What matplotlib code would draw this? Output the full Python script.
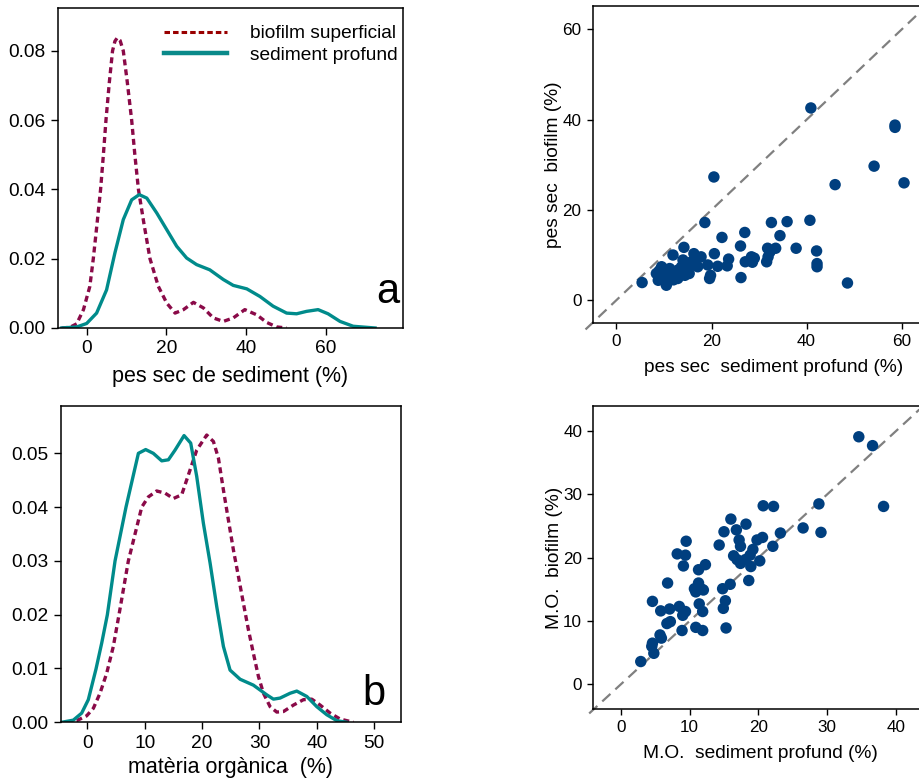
import matplotlib
matplotlib.use("Agg")
import matplotlib.pyplot as plt
from matplotlib.lines import Line2D

plt.rcParams['font.family'] = ['Liberation Sans', 'DejaVu Sans']
plt.rcParams['font.size'] = 13

# densitat pes sec (a)
a_bio_x = [-6.3, -4.2, -2.5, -0.8, 0.8, 1.67, 2.6, 3.5, 4.2, 4.85, 5.7, 6.5, 7.1, 7.7, 8.4, 9.2,
           10.2, 11.3, 12.1, 13.0, 14.4, 15.9, 18.0, 20.1, 22.2, 24.3, 26.8, 29.3, 31.8, 34.3,
           36.8, 39.7, 42.7, 45.2, 47.7, 50.2]
a_bio_y = [0, 0.0002, 0.0012, 0.0053, 0.012, 0.02, 0.03, 0.04, 0.05, 0.06, 0.071, 0.08, 0.0828,
           0.0838, 0.083, 0.08, 0.071, 0.06, 0.05, 0.04, 0.03, 0.02, 0.012, 0.0072, 0.0043, 0.0053,
           0.0074, 0.0058, 0.0029, 0.0019, 0.0029, 0.0053, 0.0038, 0.0016, 0.0003, 0]
a_sed_x = [-6.3, -2.5, 0, 2.5, 5.0, 7.1, 9.2, 11.3, 13.2, 15.1, 17.6, 20.1, 22.6, 25.1, 27.6, 30.9,
           34.3, 36.8, 40.2, 43.5, 46.8, 50.2, 52.7, 55.2, 58.1, 60.6, 63.6, 66.9, 72.4]
a_sed_y = [0, 0.0003, 0.0013, 0.0043, 0.011, 0.0217, 0.0313, 0.037, 0.0385, 0.0375, 0.0332, 0.0284,
           0.0236, 0.0202, 0.0183, 0.0168, 0.014, 0.0123, 0.0113, 0.0091, 0.0063, 0.0043, 0.0041,
           0.0048, 0.0053, 0.0041, 0.0019, 0.0005, 0]

# densitat materia organica (b)
b_sed_x = [-4.48, -2.44, -0.99, 0.17, 1.51, 2.5, 3.49, 4.83, 6.74, 8.9, 10.17, 11.5, 12.97, 14.13,
           15.29, 16.86, 18.02, 19.07, 20.23, 21.4, 22.56, 23.72, 24.88, 26.63, 28.95, 31.28, 32.44,
           33.6, 35.35, 36.51, 38.26, 40.0, 41.74, 43.49, 45.23]
b_sed_y = [0, 0.0004, 0.0017, 0.0042, 0.0099, 0.0147, 0.02, 0.03, 0.04, 0.05, 0.0507, 0.05, 0.0486,
           0.0488, 0.0506, 0.0533, 0.0519, 0.0457, 0.037, 0.0296, 0.0215, 0.0141, 0.0097, 0.008,
           0.0069, 0.0051, 0.0043, 0.0045, 0.0054, 0.0058, 0.0048, 0.0029, 0.0014, 0.0003, 0]
b_bio_x = [-3.6, -1.86, -0.12, 1.05, 2.21, 3.37, 4.53, 5.52, 7.15, 9.48, 10.64, 12.09, 13.55, 15.0,
           16.45, 17.62, 19.07, 20.81, 21.98, 22.85, 23.72, 24.59, 25.47, 26.34, 27.21, 28.08,
           28.95, 29.83, 30.7, 31.86, 33.02, 34.19, 35.93, 37.67, 39.13, 40.58, 42.33, 44.07, 46.4]
b_bio_y = [0, 0.0003, 0.0012, 0.0026, 0.0054, 0.0091, 0.0141, 0.02, 0.03, 0.04, 0.0419, 0.043,
           0.0426, 0.0416, 0.0423, 0.046, 0.0506, 0.0534, 0.0522, 0.0491, 0.0432, 0.0376, 0.032,
           0.0271, 0.0221, 0.0172, 0.0128, 0.0085, 0.0054, 0.0029, 0.0019, 0.002, 0.0032, 0.0042,
           0.0043, 0.0032, 0.0017, 0.0006, 0]

# pes sec: sediment profund vs biofilm
ps_sed = [5.4, 20.5, 40.9, 58.6, 58.6, 54.2, 46.0, 60.5, 18.6, 27.0, 22.2, 32.6, 35.9, 40.7, 34.4,
          26.1, 31.8, 33.5, 37.8, 42.1, 42.2, 42.2, 48.6, 26.2, 19.6, 19.8, 20.6, 23.6, 23.3, 21.3,
          19.2, 28.4, 28.6, 27.1, 31.6, 31.9, 32.3, 11.9, 14.2, 16.3, 17.8, 17.1, 14.0, 8.4, 9.5,
          8.8, 10.5, 11.2, 12.4, 13.0, 14.4, 15.3, 9.8, 11.6, 13.7, 16.1, 10.5, 12.9, 9.0, 10.0,
          12.0, 15.0, 16.8, 29.0, 15.8]
ps_bio = [3.9, 27.3, 42.6, 38.8, 38.3, 29.7, 25.6, 26.0, 17.2, 15.0, 13.9, 17.2, 17.4, 17.7, 14.3,
          12.0, 11.5, 11.5, 11.5, 10.9, 8.1, 7.4, 3.8, 5.0, 4.8, 5.5, 10.3, 9.1, 7.6, 7.5,
          7.8, 9.6, 8.4, 8.5, 8.5, 9.6, 10.7, 10.0, 11.7, 10.3, 9.6, 7.4, 8.9, 5.9, 7.4,
          4.4, 3.3, 7.0, 5.2, 6.7, 5.5, 5.9, 5.2, 5.9, 7.4, 8.1, 4.4, 4.8, 6.5, 6.0,
          4.5, 7.0, 8.9, 9.3, 8.5]

# materia organica: sediment profund vs biofilm
mo_sed = [34.6, 36.6, 38.2, 28.8, 29.1, 26.5, 23.2, 22.1, 20.7, 22.2, 20.6, 19.8, 20.2, 16.0, 18.2,
          16.8, 15.0, 14.3, 17.2, 17.4, 19.2, 18.8, 16.4, 16.9, 17.4, 18.1, 18.9, 18.6, 15.9, 14.8,
          15.2, 14.9, 15.3, 9.5, 8.2, 9.4, 9.1, 11.3, 12.3, 11.3, 10.9, 11.8, 12.0, 10.7, 11.4,
          11.9, 10.9, 11.9, 8.9, 6.8, 4.6, 5.8, 7.1, 8.5, 9.4, 9.0, 7.2, 6.7, 5.7, 5.9, 4.6, 4.5,
          4.8, 2.9]
mo_bio = [39.1, 37.7, 28.1, 28.5, 24.0, 24.7, 23.9, 21.8, 28.2, 28.1, 23.2, 22.8, 19.5, 26.1, 25.3,
          24.4, 24.1, 22.0, 22.8, 21.8, 21.3, 20.4, 20.3, 19.7, 19.1, 19.7, 18.6, 16.4, 15.8, 15.1,
          13.2, 12.0, 8.9, 22.6, 20.6, 20.4, 18.7, 18.1, 18.9, 16.0, 14.6, 15.0, 14.9, 15.1, 12.7,
          11.5, 9.0, 8.5, 8.5, 16.0, 13.1, 11.6, 11.9, 12.3, 11.5, 10.9, 9.9, 9.6, 7.8, 7.3, 6.5,
          6.0, 4.9, 3.6]

c_bio = '#8a0a48'
c_sed = '#008b8b'
c_pts = '#003f7f'

fig = plt.figure(figsize=(9.2, 7.8), dpi=100, facecolor='white')
ax1 = fig.add_axes([0.063, 0.5795, 0.375, 0.4103])
ax3 = fig.add_axes([0.066, 0.074, 0.370, 0.4055])
ax2 = fig.add_axes([0.6442, 0.5863, 0.3927, 0.406])
ax4 = fig.add_axes([0.6449, 0.091, 0.3626, 0.3888])

for ax in (ax1, ax3):
    ax.tick_params(direction='out', length=5, width=1, labelsize=13.8, pad=4)
for ax in (ax2, ax4):
    ax.tick_params(direction='out', length=4, width=1, labelsize=12.3, pad=4)
for ax in (ax1, ax2, ax3, ax4):
    for s in ax.spines.values():
        s.set_linewidth(1.1)

# a
ax1.plot(a_bio_x, a_bio_y, color=c_bio, lw=2.4, linestyle=(0, (1.8, 1.2)))
ax1.plot(a_sed_x, a_sed_y, color=c_sed, lw=2.4)
ax1.set_xlim(-7.2, 79.4)
ax1.set_ylim(0, 0.0924)
ax1.set_xticks([0, 20, 40, 60])
ax1.set_yticks([0, 0.02, 0.04, 0.06, 0.08])
ax1.set_yticklabels(['0.00', '0.02', '0.04', '0.06', '0.08'])
ax1.set_xlabel('pes sec de sediment (%)', fontsize=15.5, labelpad=6)
ax1.text(0.956, 0.078, 'a', transform=ax1.transAxes, fontsize=30, ha='center', va='baseline')
handles = [Line2D([], [], color='#990000', lw=2.2, linestyle=(0, (1.8, 1.0))),
           Line2D([], [], color='#0a8a8a', lw=3.2)]
ax1.legend(handles, ['biofilm superficial', 'sediment profund'], loc='upper right',
           bbox_to_anchor=(0.985, 0.947), frameon=False, fontsize=13.8, handlelength=3.3,
           handletextpad=1.2, borderaxespad=0, borderpad=0, labelspacing=0.2)

# b
ax3.plot(b_bio_x, b_bio_y, color=c_bio, lw=2.4, linestyle=(0, (1.8, 1.2)))
ax3.plot(b_sed_x, b_sed_y, color=c_sed, lw=2.4)
ax3.set_xlim(-4.64, 54.7)
ax3.set_ylim(0, 0.0588)
ax3.set_xticks([0, 10, 20, 30, 40, 50])
ax3.set_yticks([0, 0.01, 0.02, 0.03, 0.04, 0.05])
ax3.set_yticklabels(['0.00', '0.01', '0.02', '0.03', '0.04', '0.05'])
ax3.set_xlabel('matèria orgànica  (%)', fontsize=15.5, labelpad=4)
ax3.text(0.921, 0.055, 'b', transform=ax3.transAxes, fontsize=30, ha='center', va='baseline')

# scatter pes sec
ax2.plot([-6.5, 63.5], [-6.5, 63.5], color='#808080', lw=1.6, linestyle=(0, (5, 3)), clip_on=False)
ax2.scatter(ps_sed, ps_bio, s=68, color=c_pts, edgecolors='none', zorder=3)
ax2.set_xlim(-5, 71)
ax2.set_ylim(-5.0, 65.2)
ax2.set_xticks([0, 20, 40, 60])
ax2.set_yticks([0, 20, 40, 60])
ax2.set_xlabel('pes sec  sediment profund (%)', fontsize=13.8, labelpad=7)
ax2.set_ylabel('pes sec  biofilm (%)', fontsize=13.8, labelpad=0)

# scatter M.O.
ax4.plot([-4.6, 43.4], [-4.6, 43.4], color='#808080', lw=1.6, linestyle=(0, (5, 3)), clip_on=False)
ax4.scatter(mo_sed, mo_bio, s=68, color=c_pts, edgecolors='none', zorder=3)
ax4.set_xlim(-4, 44.5)
ax4.set_ylim(-3.9, 44.0)
ax4.set_xticks([0, 10, 20, 30, 40])
ax4.set_yticks([0, 10, 20, 30, 40])
ax4.set_xlabel('M.O.  sediment profund (%)', fontsize=13.8, labelpad=7)
ax4.set_ylabel('M.O.  biofilm (%)', fontsize=13.8, labelpad=0)

fig.savefig('out.png', dpi=100, facecolor='white')
